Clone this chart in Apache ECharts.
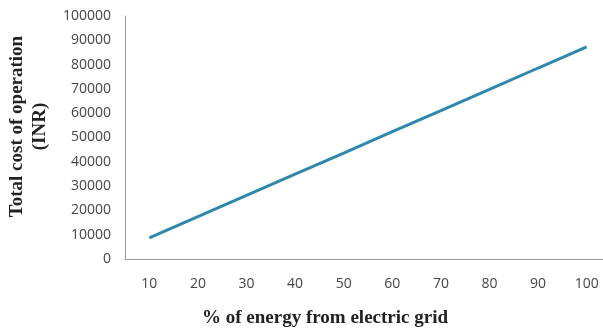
<!DOCTYPE html>
<html><head><meta charset="utf-8">
<script src="https://cdn.jsdelivr.net/npm/echarts@6/dist/echarts.min.js"></script>
<style>html,body{margin:0;padding:0;background:#fff}#c{width:603px;height:328px}</style>
</head><body><div id="c"></div>
<script>
const categories = ['10','20','30','40','50','60','70','80','90','100'];
const costValues = [8700, 17400, 26200, 34900, 43600, 52400, 61100, 69800, 78600, 87300];
const yTitle = 'Total cost of operation\n(INR)';
const xTitle = '% of energy from electric grid';

const chart = echarts.init(document.getElementById('c'));
chart.setOption({
  animation: false,
  grid: { left: 125, right: -8, top: 16, bottom: 69, containLabel: false, outerBoundsMode: 'none' },
  xAxis: {
    type: 'category', data: categories, boundaryGap: true,
    axisLine: { lineStyle: { color: '#999', width: 1 } },
    axisTick: { show: false },
    axisLabel: { color: '#444', fontFamily: 'Open Sans', fontSize: 14, margin: 18 },
    name: xTitle, nameLocation: 'middle', nameGap: 50,
    nameTextStyle: { fontFamily: 'Liberation Serif', fontWeight: 'bold', fontSize: 19, color: '#222', padding: [0, 86, 0, 0] }
  },
  yAxis: {
    type: 'value', min: 0, max: 100000, interval: 10000,
    splitLine: { show: false },
    axisLine: { show: true, lineStyle: { color: '#999', width: 1 } },
    axisTick: { show: false },
    axisLabel: { color: '#444', fontFamily: 'Open Sans', fontSize: 14, margin: 14, formatter: v => String(v) },
    name: yTitle, nameLocation: 'middle', nameGap: 66, nameRotate: 90,
    nameTextStyle: { fontFamily: 'Liberation Serif', fontWeight: 'bold', fontSize: 19, color: '#222', lineHeight: 23, align: 'center', padding: [0, 0, 0, 22] }
  },
  series: [{
    type: 'line', data: costValues, showSymbol: false,
    lineStyle: { color: '#2E88AE', width: 3 }
  }]
});
</script></body></html>
